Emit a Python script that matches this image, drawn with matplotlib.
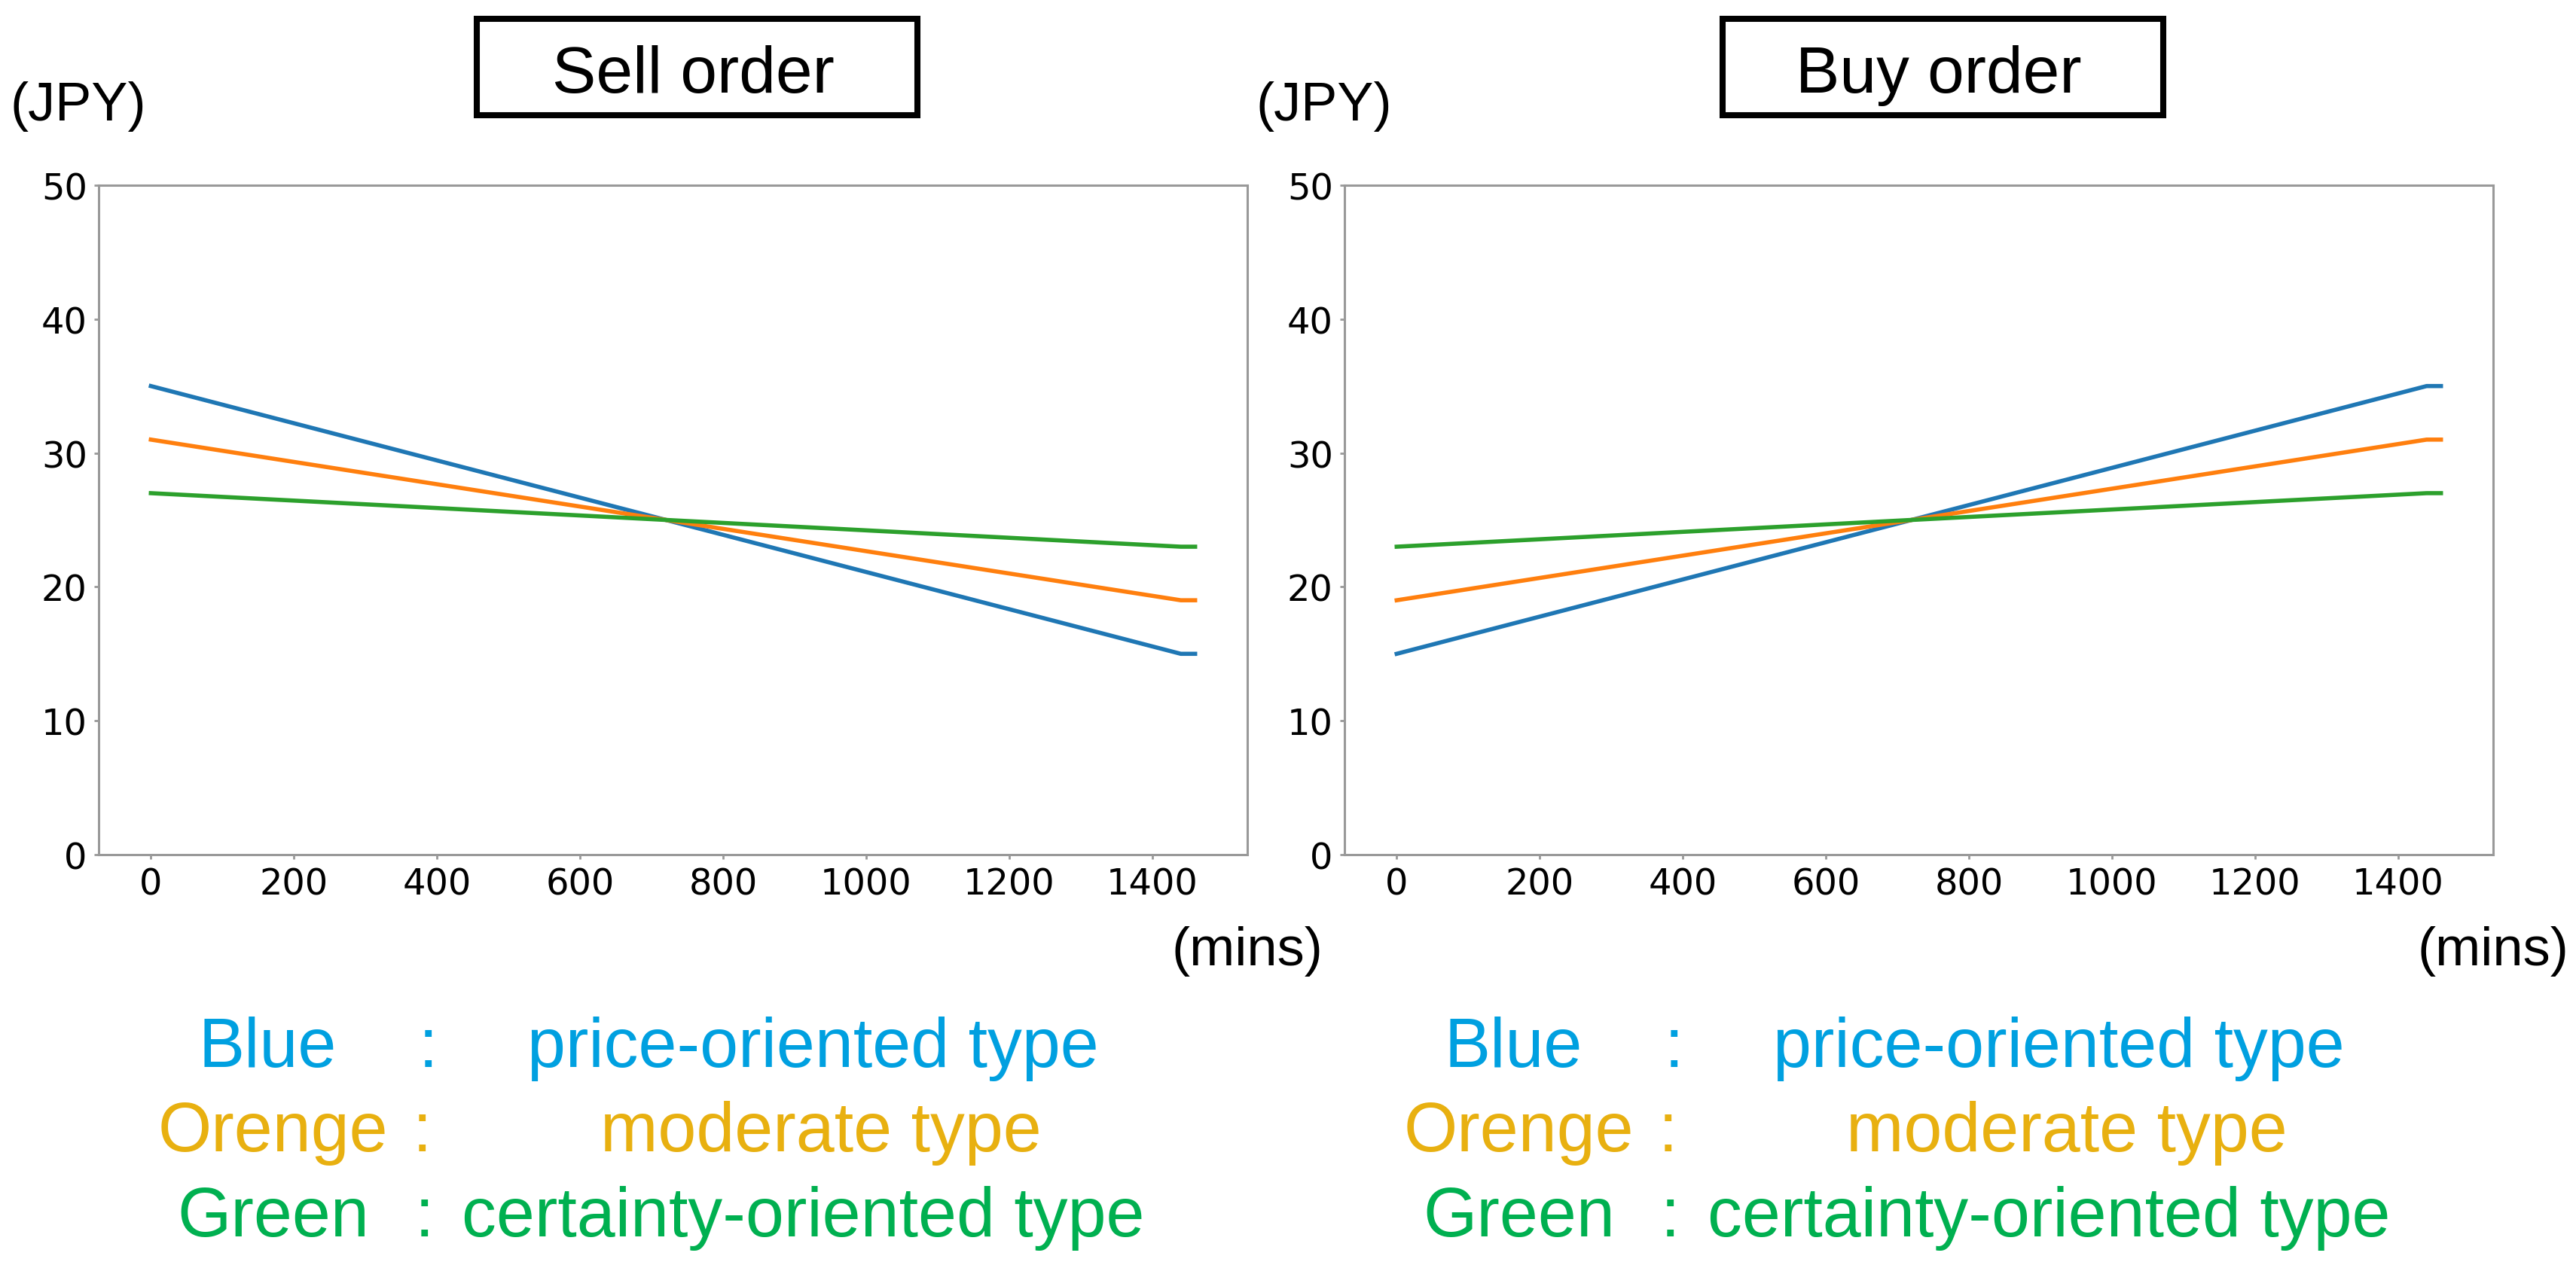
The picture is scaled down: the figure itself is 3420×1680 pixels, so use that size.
import matplotlib
matplotlib.use('Agg')
import matplotlib.pyplot as plt
from matplotlib.patches import Rectangle

# ------------------------------- DATA ------------------------------- #
minutes = [0, 1440, 1460]

sell_blue = [35, 15, 15]
sell_orange = [31, 19, 19]
sell_green = [27, 23, 23]

buy_blue = [15, 35, 35]
buy_orange = [19, 31, 31]
buy_green = [23, 27, 27]

x_ticks = [0, 200, 400, 600, 800, 1000, 1200, 1400]
y_ticks = [0, 10, 20, 30, 40, 50]

panel_titles = ['Sell order', 'Buy order']
legend_names = ['Blue', 'Orenge', 'Green']
legend_types = ['price-oriented type', 'moderate type', 'certainty-oriented type']

# ------------------------------ LAYOUT ------------------------------ #
W, H = 3420, 1681
LINE_COLORS = ['#1f77b4', '#ff7f0e', '#2ca02c']
TEXT_COLORS = ['#00a0e0', '#e8b010', '#00b050']
ARIAL = 'Liberation Sans'


def fx(px):
        return px / W


def fy(py):
        return 1 - py / H


fig = plt.figure(figsize=(W / 100, H / 100), dpi=100)

panels = [
        (131, (sell_blue, sell_orange, sell_green)),
        (1785, (buy_blue, buy_orange, buy_green)),
]
ax_w, ax_top, ax_bot = 1525, 247, 1136

for i, (left, series) in enumerate(panels):
        ax = fig.add_axes([fx(left), fy(ax_bot), fx(ax_w), (ax_bot - ax_top) / H])
        for ys, c in zip(series, LINE_COLORS):
                ax.plot(minutes, ys, color=c, linewidth=4)
        ax.set_ylim(0, 50)
        ax.set_xticks(x_ticks)
        ax.set_yticks(y_ticks)
        ax.tick_params(labelsize=34.5, length=4, width=2, color='#999999', pad=7)
        for sp in ax.spines.values():
                sp.set_color('#999999')
                sp.set_linewidth(2.2)

        off = left - 131

        # title box
        bx0, bx1, by0, by1 = 633 + off, 1218 + off, 26, 154
        fig.add_artist(Rectangle((fx(bx0), fy(by1)), fx(bx1 - bx0), (by1 - by0) / H,
                                 transform=fig.transFigure, fill=False,
                                 edgecolor='black', linewidth=5.8))
        fig.text(fx(920 + off), fy(123), panel_titles[i], fontsize=63,
                 family=ARIAL, ha='center', va='baseline')

        # axis unit labels
        fig.text(fx(13 + off), fy(160), '(JPY)', fontsize=52, family=ARIAL,
                 ha='left', va='baseline')
        fig.text(fx(1656 + off), fy(1282), '(mins)', fontsize=52, family=ARIAL,
                 ha='center', va='baseline')

        # colour legend
        name_x = [263, 210, 235]
        colon_x = [568, 560, 563]
        type_x = [700, 797, 613]
        base_y = [1417, 1529, 1642]
        for k in range(3):
                fig.text(fx(name_x[k] + off), fy(base_y[k]), legend_names[k],
                         fontsize=66, family=ARIAL, color=TEXT_COLORS[k],
                         ha='left', va='baseline')
                fig.text(fx(colon_x[k] + off), fy(base_y[k]), ':',
                         fontsize=66, family=ARIAL, color=TEXT_COLORS[k],
                         ha='center', va='baseline')
                fig.text(fx(type_x[k] + off), fy(base_y[k]), legend_types[k],
                         fontsize=66, family=ARIAL, color=TEXT_COLORS[k],
                         ha='left', va='baseline')

fig.savefig('out.png', dpi=100)
